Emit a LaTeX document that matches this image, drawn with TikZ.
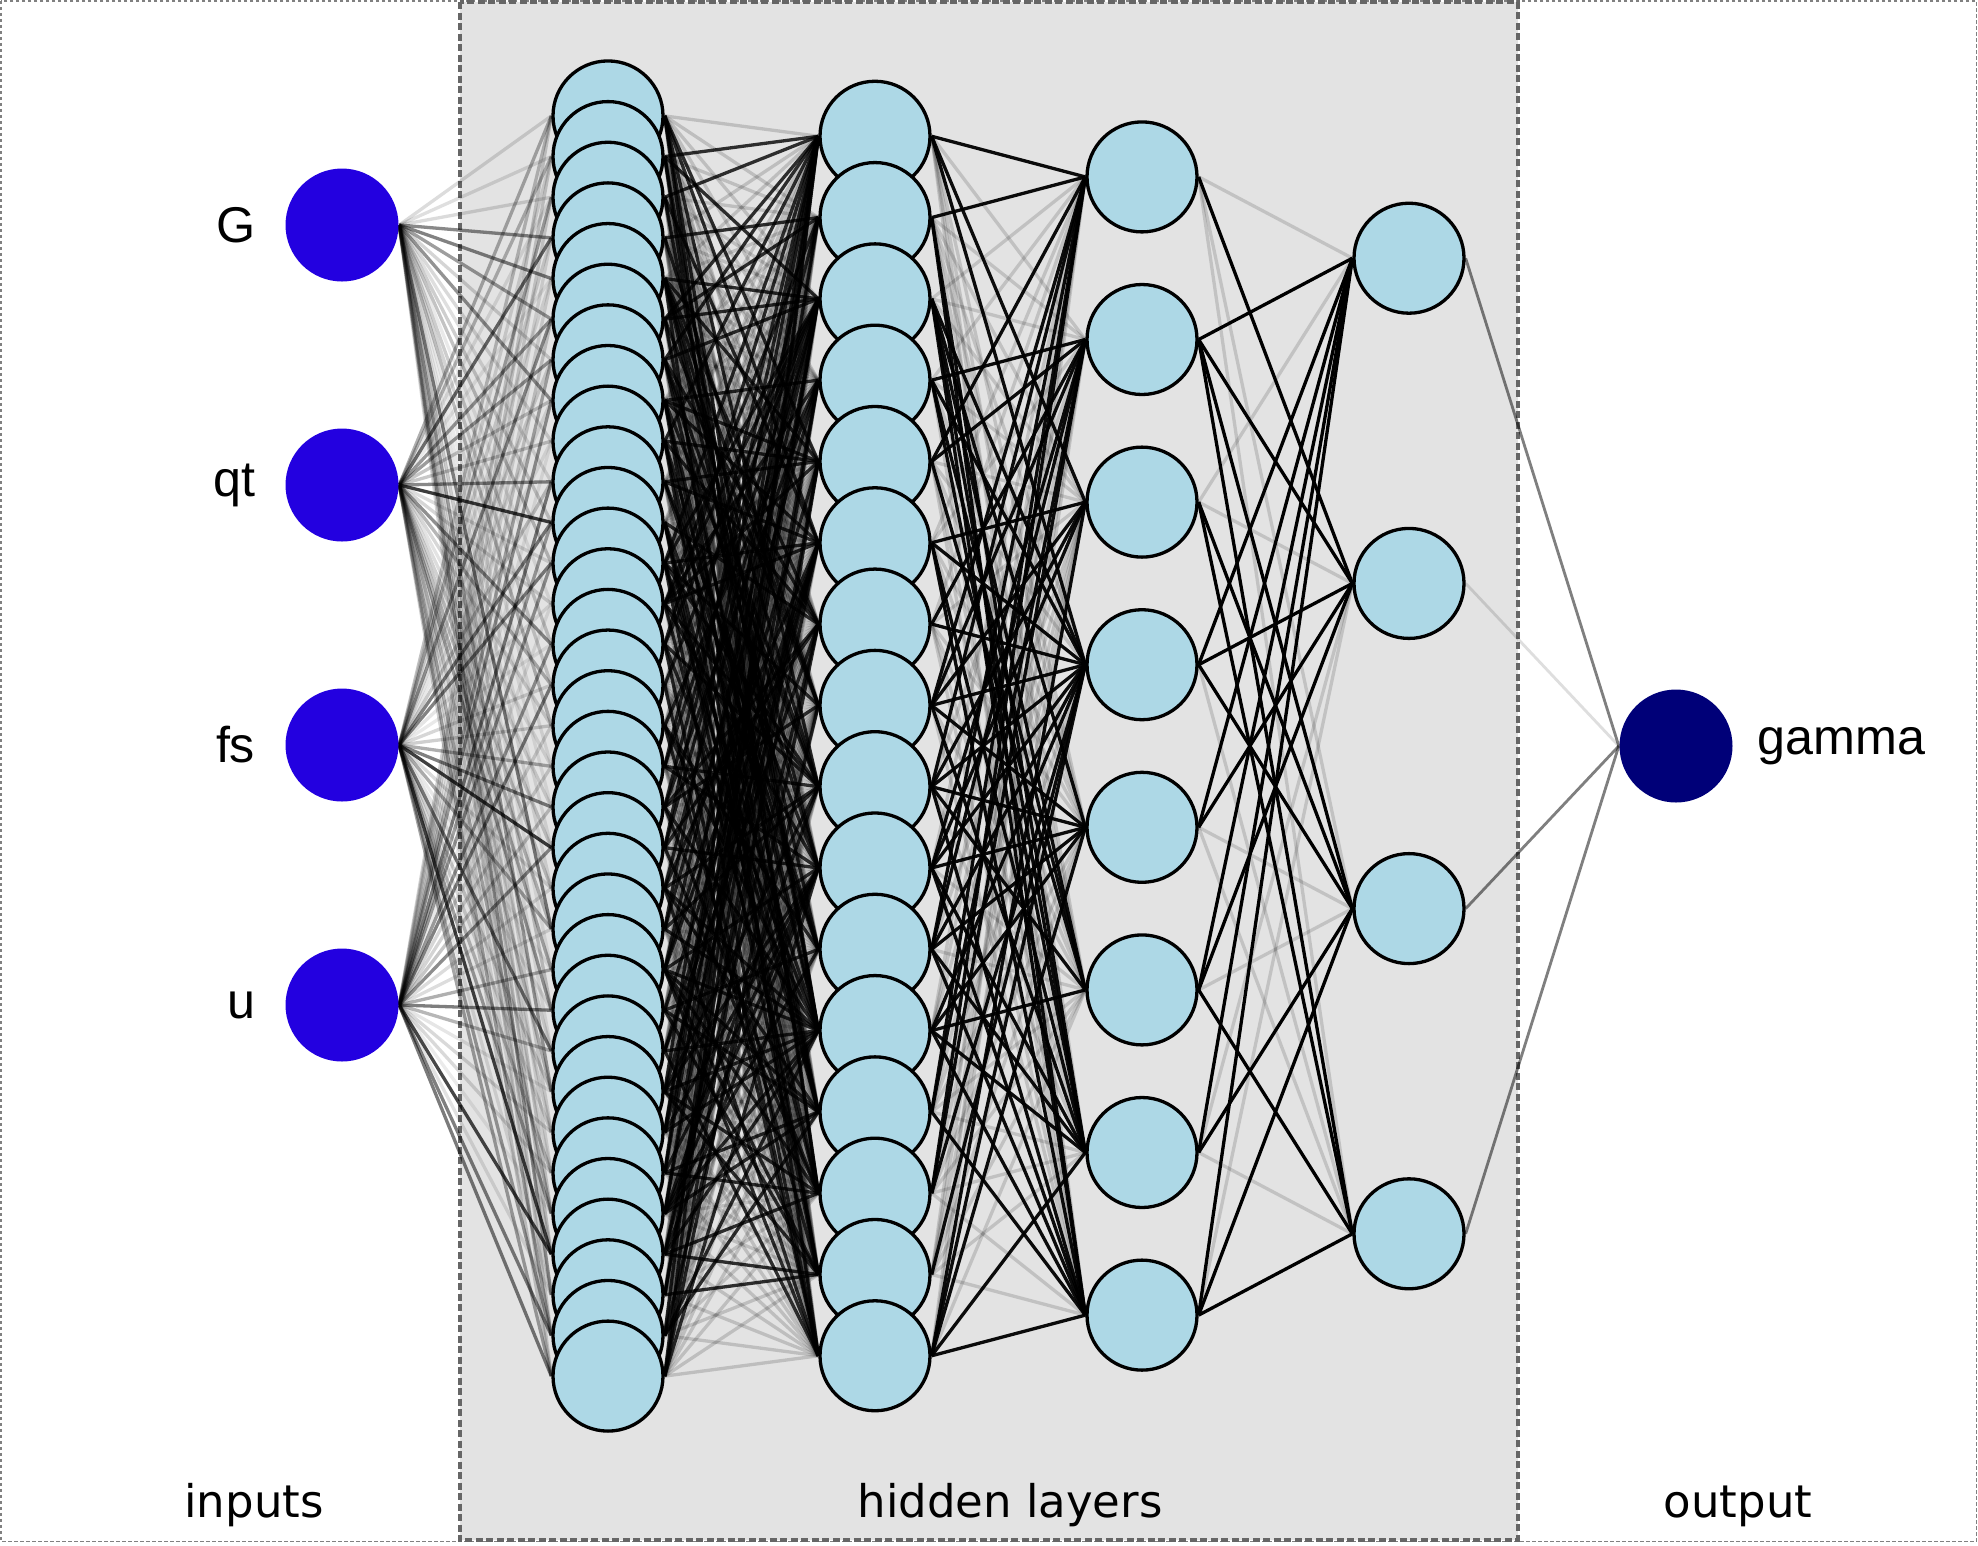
\documentclass[tikz,border=0pt]{standalone}
\usepackage{fontspec}
\setmainfont{Liberation Sans}
\newfontfamily\captionfont{DejaVu Sans}
\usetikzlibrary{positioning,backgrounds}
\definecolor{inblue}{HTML}{2300E0}
\definecolor{outnavy}{HTML}{000078}
\definecolor{cellblue}{HTML}{ADD8E6}
\definecolor{boxgray}{HTML}{E3E3E3}
\definecolor{dashgray}{HTML}{666666}
\tikzstyle{innode} = [
circle,
fill=inblue,
minimum size=11.3mm,
inner sep=0pt
]
\tikzstyle{outnode} = [
circle,
fill=outnavy,
minimum size=11.3mm,
inner sep=0pt
]
\tikzstyle{cell} = [
circle,
draw=black,
line width=0.33mm,
fill=cellblue,
minimum size=11mm,
inner sep=0pt
]
\tikzstyle{unitname} = [
font=\fontsize{14.3}{17}\selectfont,
inner sep=0pt
]
\tikzstyle{groupname} = [
font=\captionfont\fontsize{12.8}{15}\selectfont,
inner sep=0pt,
anchor=base
]
\tikzstyle{link} = [
line width=0.33mm,
draw=black
]

\begin{document}
\begin{tikzpicture}[x=0.1mm,y=-0.1mm]
					\useasboundingbox (0,0) rectangle (1978,1545);
					%Nodes
					\foreach \k/\name in {1/G,2/qt,3/fs,4/u}{
						\node[innode] (in-\k) at (342,{615+(\k-2.5)*260}) {};
						\node[unitname,left=2.9mm of in-\k] (lab-\k) {\name};
					}
					\foreach \k in {1,...,32} \node[cell] (h1-\k) at (608,{746+(\k-16.5)*40.65}) {};
					\foreach \k in {1,...,16} \node[cell] (h2-\k) at (875,{746+(\k-8.5)*81.3}) {};
					\foreach \k in {1,...,8} \node[cell] (h3-\k) at (1142,{746+(\k-4.5)*162.6}) {};
					\foreach \k in {1,...,4} \node[cell] (h4-\k) at (1409,{746+(\k-2.5)*325.2}) {};
					\node[outnode] (out) at (1676,746) {};
					\node[unitname,right=2.4mm of out] (lab-out) {gamma};
					\node[groupname] (cap-in) at (254,1517) {inputs};
					\node[groupname] (cap-hid) at (1010,1517) {hidden layers};
					\node[groupname] (cap-out) at (1738,1517) {output};
					%Frames and links
					\begin{pgfonlayer}{background}
					\draw[gray,line width=0.15mm,dash pattern=on 0.35mm off 0.25mm] (0.8,0.8) rectangle (1976.4,1541.4);
					\draw[fill=boxgray,draw=dashgray,line width=0.4mm,dash pattern=on 0.7mm off 0.35mm] (459.5,2) rectangle (1517.5,1539.5);
					\pgfmathsetseed{42}
					\foreach \i in {1,...,4}
						\foreach \j in {1,...,32}{
							\pgfmathsetmacro\op{0.08+0.7*rnd*rnd}
							\draw[link,draw opacity=\op] (in-\i.east) -- (h1-\j.west);
						}
					\foreach \i in {1,...,32}
						\foreach \j in {1,...,16}{
							\pgfmathsetmacro\op{rnd<0.3 ? 0.8 : 0.16}
							\draw[link,draw opacity=\op] (h1-\i.east) -- (h2-\j.west);
						}
					\foreach \i in {1,...,16}
						\foreach \j in {1,...,8}{
							\pgfmathsetmacro\op{rnd<0.45 ? 0.95 : 0.15}
							\draw[link,draw opacity=\op] (h2-\i.east) -- (h3-\j.west);
						}
					\foreach \i/\j in {1/1,1/3,1/4,3/1,3/2,4/4,5/3,5/4,6/3,7/2,7/4,8/2}
						\draw[link,draw opacity=0.14] (h3-\i.east) -- (h4-\j.west);
					\foreach \i/\j in {1/2,2/1,2/2,2/3,2/4,3/3,3/4,4/1,4/2,4/3,5/1,5/2,6/1,6/2,6/4,7/1,7/3,8/1,8/3,8/4}
						\draw[link] (h3-\i.east) -- (h4-\j.west);
					\foreach \j/\op in {1/0.5,2/0.13,3/0.5,4/0.5}
						\draw[link,line width=0.28mm,draw opacity=\op] (h4-\j.east) -- (out.west);
					\end{pgfonlayer}
				\end{tikzpicture}
\end{document}
